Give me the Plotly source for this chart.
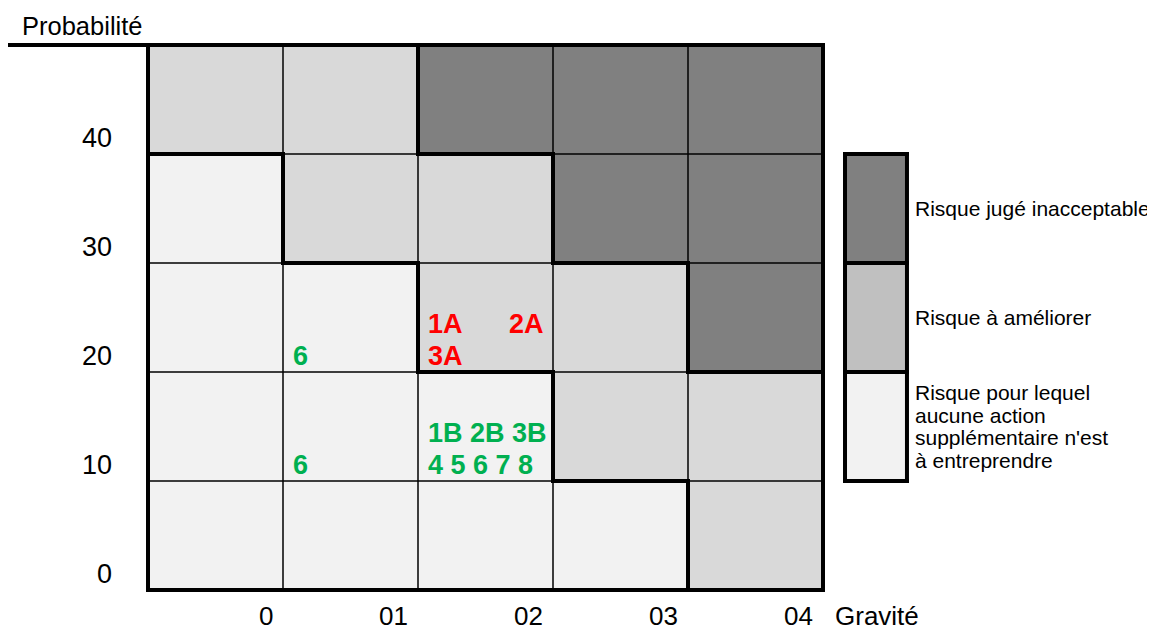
import plotly.graph_objects as go

# ---------------- data ----------------
gravite_labels = ["0", "01", "02", "03", "04"]          # columns, left -> right
probabilite_labels = ["0", "10", "20", "30", "40"]      # rows, bottom -> top

# risk zone of each cell (rows bottom -> top, columns left -> right)
# 0 = aucune action, 1 = à améliorer, 2 = inacceptable
zone_rows = [
    [0, 0, 0, 0, 1],
    [0, 0, 0, 1, 1],
    [0, 0, 1, 1, 2],
    [0, 1, 1, 2, 2],
    [1, 1, 2, 2, 2],
]
zone_colors = ["#f2f2f2", "#d9d9d9", "#808080"]
legend_colors = ["#f2f2f2", "#c0c0c0", "#808080"]
legend_texts = [
    ["Risque pour lequel", "aucune action", "supplémentaire n'est", "à entreprendre"],
    ["Risque à améliorer"],
    ["Risque jugé inacceptable"],
]

RED = "#ff0000"
GREEN = "#00b050"
note_texts = ["6", "6", "1A", "2A", "3A", "1B 2B 3B", "4 5 6 7 8"]
note_cols = [1, 1, 2, 2, 2, 2, 2]
note_rows = [2, 1, 2, 2, 2, 1, 1]
note_lines = [0, 0, 1, 1, 0, 1, 0]          # 0 = lower line, 1 = upper line
note_align = ["left", "left", "left", "right", "left", "left", "left"]
note_colors = [GREEN, GREEN, RED, RED, RED, GREEN, GREEN]

# ---------------- layout constants ----------------
W, H = 1155, 632
PAGE_OFFSET = 8                      # default body margin of the html page
PX_X, PX_Y = 135.0, 109.0           # pixels per cell
GRID_LEFT = 148 - PAGE_OFFSET        # pixel position of grid origin inside the figure
GRID_BOTTOM = 590 - PAGE_OFFSET
FONT = "Liberation Sans, Arial, Helvetica, sans-serif"
NC, NR = len(gravite_labels), len(probabilite_labels)

x_range = [-GRID_LEFT / PX_X, (W - GRID_LEFT) / PX_X]
y_range = [-(H - GRID_BOTTOM) / PX_Y, GRID_BOTTOM / PX_Y]

LEG_X0, LEG_X1 = 5.163, 5.622
XTICK_Y = -26 / PX_Y

fig = go.Figure()

# cells
fig.add_trace(go.Heatmap(
    x=list(range(NC + 1)), y=list(range(NR + 1)), z=zone_rows,
    zmin=0, zmax=2,
    colorscale=[[0, zone_colors[0]], [0.5, zone_colors[1]], [1, zone_colors[2]]],
    showscale=False, hoverinfo="skip",
))
# legend colour bar
fig.add_trace(go.Heatmap(
    x=[LEG_X0, LEG_X1], y=[1, 2, 3, 4], z=[[0], [1], [2]],
    zmin=0, zmax=2,
    colorscale=[[0, legend_colors[0]], [0.5, legend_colors[1]], [1, legend_colors[2]]],
    showscale=False, hoverinfo="skip",
))

# thin grid lines
tx, ty = [], []
for k in range(1, NC):
    tx += [k, k, None]; ty += [0, NR, None]
for k in range(1, NR):
    tx += [0, NC, None]; ty += [k, k, None]
fig.add_trace(go.Scatter(x=tx, y=ty, mode="lines", line=dict(color="black", width=1.5),
                         hoverinfo="skip", showlegend=False))

# thick lines: outer border, zone boundaries, legend frame
ex, ey = 2 / PX_X, 2 / PX_Y
segs = []
segs += [((0, 0), (NC, 0)), ((0, NR), (NC, NR)), ((0, 0), (0, NR)), ((NC, 0), (NC, NR))]
for r in range(NR):
    for c in range(NC - 1):
        if zone_rows[r][c] != zone_rows[r][c + 1]:
            segs.append(((c + 1, r), (c + 1, r + 1)))
for r in range(NR - 1):
    for c in range(NC):
        if zone_rows[r][c] != zone_rows[r + 1][c]:
            segs.append(((c, r + 1), (c + 1, r + 1)))
# rule under the y title
segs.append(((x_range[0] + 2 / PX_X, NR), (0, NR)))
# legend frame
segs += [((LEG_X0, 1), (LEG_X0, 4)), ((LEG_X1, 1), (LEG_X1, 4))]
for k in range(1, 5):
    segs.append(((LEG_X0, k), (LEG_X1, k)))

kx, ky = [], []
for (x0, y0), (x1, y1) in segs:
    if y0 == y1:
        kx += [x0 - ex, x1 + ex, None]; ky += [y0, y1, None]
    else:
        kx += [x0, x1, None]; ky += [y0 - ey, y1 + ey, None]
fig.add_trace(go.Scatter(x=kx, y=ky, mode="lines", line=dict(color="black", width=4),
                         hoverinfo="skip", showlegend=False))

ann = []
# x tick labels
for i, t in enumerate(gravite_labels):
    ann.append(dict(x=i + 1 - 9 / PX_X, y=XTICK_Y, text=t, xanchor="right", yanchor="middle",
                    borderpad=0, showarrow=False, font=dict(size=26, color="black", family=FONT)))
# y tick labels
for j, t in enumerate(probabilite_labels):
    ann.append(dict(x=-34 / PX_X, y=j + 0.15, text=t, xanchor="right", yanchor="middle",
                    showarrow=False, font=dict(size=27, color="black", family=FONT)))
# axis titles
ann.append(dict(x=x_range[0] + 12 / PX_X, y=NR + 19 / PX_Y, text="Probabilité", xanchor="left",
                yanchor="middle", showarrow=False, font=dict(size=25.5, color="black", family=FONT)))
ann.append(dict(x=NC + 11 / PX_X, y=XTICK_Y, text="Gravité", xanchor="left", borderpad=0,
                yanchor="middle", showarrow=False, font=dict(size=26, color="black", family=FONT)))

# cell notes
for t, c, r, ln, al, col in zip(note_texts, note_cols, note_rows, note_lines, note_align, note_colors):
    xx = c + 8 / PX_X if al == "left" else c + 1 - 7 / PX_X
    ann.append(dict(x=xx, y=r + 0.15 + 0.29 * ln, text="<b>%s</b>" % t, xanchor=al,
                    yanchor="middle", showarrow=False,
                    font=dict(size=27, color=col, family=FONT)))

# legend labels (each line separately for tight spacing)
LINE_STEP = 22.7 / PX_Y
for k, lines in enumerate(legend_texts):
    n = len(lines)
    mid = k + 1.5
    for i, t in enumerate(lines):
        yy = mid + ((n - 1) / 2 - i) * LINE_STEP
        ann.append(dict(x=LEG_X1 + 6 / PX_X, y=yy, text=t, xanchor="left", yanchor="middle",
                        showarrow=False, font=dict(size=21, color="black", family=FONT)))

fig.update_layout(
    width=W, height=H, margin=dict(l=0, r=0, t=0, b=0),
    paper_bgcolor="white", plot_bgcolor="white",
    xaxis=dict(range=x_range, visible=False, fixedrange=True),
    yaxis=dict(range=y_range, visible=False, fixedrange=True),
    annotations=ann, showlegend=False,
)
fig.write_html("out.html")
